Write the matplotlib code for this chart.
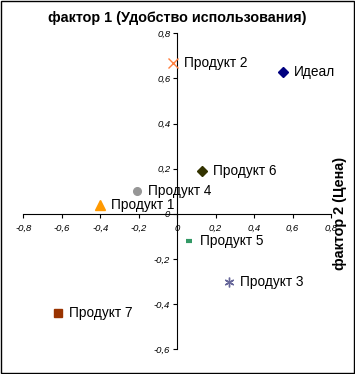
import numpy as np
import matplotlib.pyplot as plt
from matplotlib.patches import Rectangle
from matplotlib.ticker import FuncFormatter, MultipleLocator

plt.rcParams['font.family'] = ['Liberation Sans', 'DejaVu Sans']

names = ["Идеал", "Продукт 1", "Продукт 2", "Продукт 3", "Продукт 4",
         "Продукт 5", "Продукт 6", "Продукт 7"]
usability = [0.55, -0.40, -0.02, 0.27, -0.21, 0.06, 0.13, -0.62]
price = [0.63, 0.04, 0.67, -0.30, 0.10, -0.12, 0.19, -0.44]

markers = ["D", "^", "x", (6, 2, 0), "o", "_", "D", "s"]
sizes = [5.5, 6.5, 7, 7, 5.5, 5, 5.5, 5.5]
colors = ["#000080", "#FF9900", "#FF8040", "#666699", "#969696",
          "#339966", "#333300", "#993300"]

fig = plt.figure(figsize=(3.55, 3.74), dpi=100)
ax = fig.add_axes([0.0656, 0.066, 0.867, 0.845])

for x, y, name, m, s, c in zip(usability, price, names, markers, sizes, colors):
    mew = 3 if m == "_" else 1
    ax.plot(x, y, linestyle="none", marker=m, markersize=s, color=c,
            markeredgecolor=c, markeredgewidth=mew, zorder=3)
    ax.annotate(name, (x, y), xytext=(11, 0), textcoords="offset pixels",
                ha="left", va="center", fontsize=9.8, color="black")

ax.set_xlim(-0.8, 0.8)
ax.set_ylim(-0.6, 0.8)
ax.xaxis.set_major_locator(MultipleLocator(0.2))
ax.yaxis.set_major_locator(MultipleLocator(0.2))
fmt = FuncFormatter(lambda v, p: ("%g" % round(v, 1)).replace(".", ","))
ax.xaxis.set_major_formatter(fmt)
ax.yaxis.set_major_formatter(fmt)

ax.spines["left"].set_position(("data", 0))
ax.spines["bottom"].set_position(("data", 0))
ax.spines["right"].set_visible(False)
ax.spines["top"].set_visible(False)
for sp in ("left", "bottom"):
    ax.spines[sp].set_linewidth(0.8)
ax.tick_params(axis="both", direction="out", length=3, width=0.8,
               labelsize=6.8, pad=2)
ax.tick_params(axis="x", pad=4.5)
for lab in ax.get_xticklabels() + ax.get_yticklabels():
    lab.set_fontstyle("italic")
ax.patch.set_visible(False)

fig.text(0.5, 0.952, "фактор 1 (Удобство использования)", ha="center",
         va="center", fontsize=10.4, fontweight="bold")
fig.text(0.958, 0.428, "фактор 2 (Цена)", ha="center", va="center",
         rotation=90, fontsize=10.4, fontweight="bold")

fig.patches.append(Rectangle((0.0015, 0.0015), 0.997, 0.997,
                             transform=fig.transFigure, fill=False,
                             edgecolor="black", linewidth=1))

fig.savefig("out.png", dpi=100)
